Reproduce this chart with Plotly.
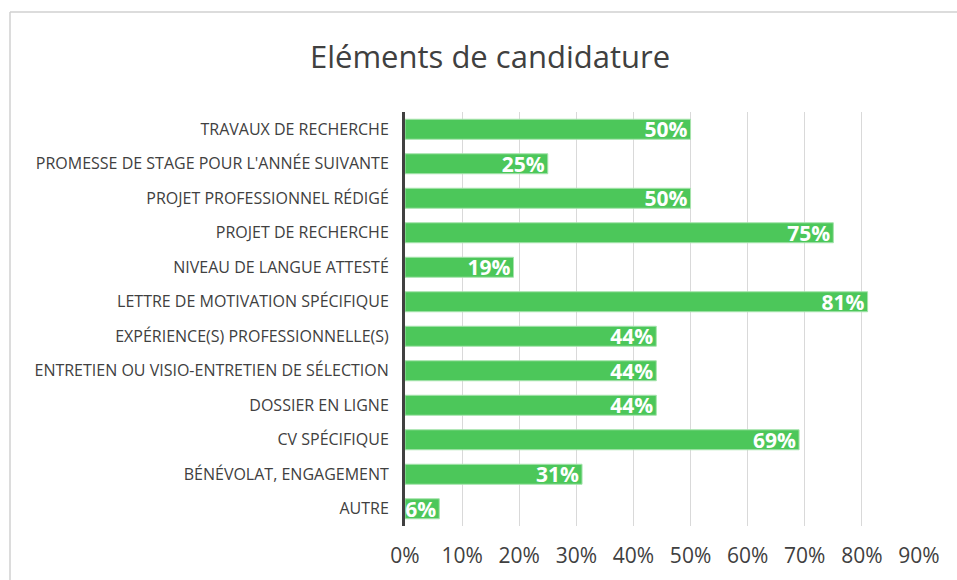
import plotly.graph_objects as go

categories = [
    "TRAVAUX DE RECHERCHE",
    "PROMESSE DE STAGE POUR L'ANNÉE SUIVANTE",
    "PROJET PROFESSIONNEL RÉDIGÉ",
    "PROJET DE RECHERCHE",
    "NIVEAU DE LANGUE ATTESTÉ",
    "LETTRE DE MOTIVATION SPÉCIFIQUE",
    "EXPÉRIENCE(S) PROFESSIONNELLE(S)",
    "ENTRETIEN OU VISIO-ENTRETIEN DE SÉLECTION",
    "DOSSIER EN LIGNE",
    "CV SPÉCIFIQUE",
    "BÉNÉVOLAT, ENGAGEMENT",
    "AUTRE",
]
values = [50, 25, 50, 75, 19, 81, 44, 44, 44, 69, 31, 6]
tick_vals = [0, 10, 20, 30, 40, 50, 60, 70, 80, 90]
tick_text = [f"{v}%" for v in tick_vals]
title_text = "Eléments de candidature"

W, H = 957, 580
L, T = 405, 112
R = W - 919
B = H - 526
pw, ph = W - L - R, H - T - B

fig = go.Figure(go.Bar(
    x=values,
    y=categories,
    orientation="h",
    marker=dict(color="#4cc75a", line=dict(color="#a6e3ad", width=1)),
    text=[f"{v}%" for v in values],
    textposition="inside",
    insidetextanchor="end",
    textfont=dict(family="Open Sans", size=21, color="white", weight="bold"),
    cliponaxis=True,
    hoverinfo="skip",
))

frame_x = (10 - L) / pw
frame_y = 1 + (T - 12) / ph

fig.update_layout(
    width=W, height=H,
    margin=dict(l=L, r=R, t=T, b=B, autoexpand=False),
    paper_bgcolor="white",
    plot_bgcolor="white",
    bargap=0.42,
    showlegend=False,
    uniformtext=dict(minsize=21, mode="show"),
    title=dict(
        text=title_text,
        x=490 / W, xanchor="center",
        y=1 - 57 / H, yanchor="middle",
        font=dict(family="Open Sans", size=31, color="#404040"),
    ),
    xaxis=dict(
        range=[0, 90],
        tickvals=tick_vals,
        ticktext=tick_text,
        showgrid=True,
        gridcolor="#d9d9d9",
        gridwidth=1,
        zeroline=False,
        showline=False,
        ticks="",
        ticklabelstandoff=15,
        tickfont=dict(family="Open Sans", size=21, color="#404040"),
        automargin=False,
        fixedrange=True,
    ),
    yaxis=dict(
        autorange="reversed",
        showline=True,
        linecolor="#404040",
        linewidth=3,
        showgrid=False,
        ticks="",
        ticklabelstandoff=10,
        tickfont=dict(family="Open Sans", size=16, color="#404040"),
        automargin=False,
        fixedrange=True,
    ),
    shapes=[
        dict(type="line", xref="paper", yref="paper",
             x0=frame_x, x1=frame_x, y0=-0.5, y1=frame_y,
             line=dict(color="#d0d0d0", width=1.5), layer="below"),
        dict(type="line", xref="paper", yref="paper",
             x0=frame_x, x1=1.5, y0=frame_y, y1=frame_y,
             line=dict(color="#d0d0d0", width=1.5), layer="below"),
    ],
)

fig.write_html(
    "out.html",
    config={"displayModeBar": False},
    post_script="document.body.style.margin='0';document.body.style.overflow='hidden';",
)
